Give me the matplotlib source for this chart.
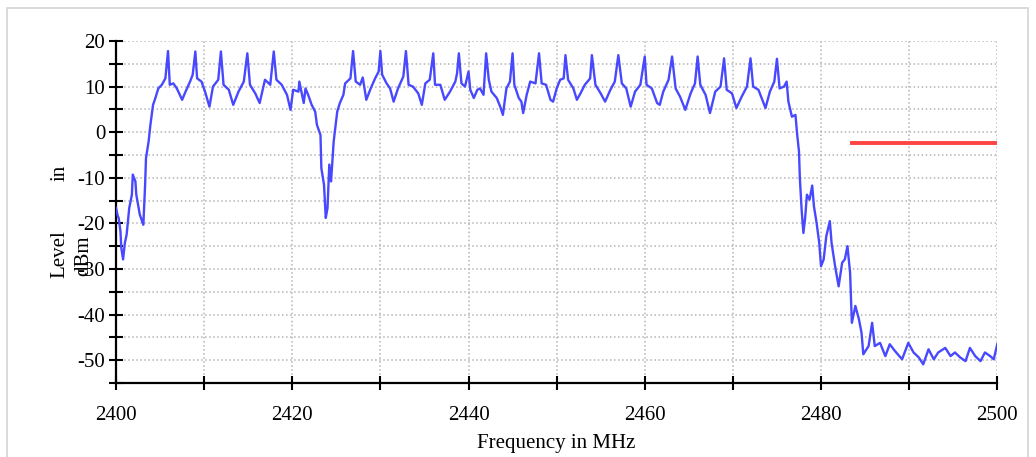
import matplotlib
matplotlib.use("Agg")
import matplotlib.pyplot as plt
from matplotlib.ticker import MultipleLocator
from matplotlib.patches import Rectangle

plt.rcParams['font.family'] = ['Liberation Serif', 'DejaVu Serif']
plt.rcParams['axes.unicode_minus'] = False

# Spectrum trace (MHz, dBm)
freq = [
    2400.0, 2400.2, 2400.3, 2400.5, 2400.6, 2400.8, 2401.0, 2401.2, 2401.5, 2401.8,
    2401.9, 2402.2, 2402.3, 2402.7, 2403.1, 2403.3, 2403.4, 2403.7, 2403.9, 2404.2,
    2404.4, 2404.8, 2405.2, 2405.6, 2405.9, 2406.1, 2406.5, 2406.9, 2407.5, 2407.8,
    2408.4, 2408.7, 2409.0, 2409.2, 2409.7, 2410.1, 2410.6, 2411.0, 2411.6, 2411.9,
    2412.2, 2412.8, 2413.3, 2413.9, 2414.5, 2414.9, 2415.2, 2415.8, 2416.3, 2416.9,
    2417.5, 2417.9, 2418.2, 2418.8, 2419.4, 2419.8, 2420.1, 2420.7, 2420.8, 2421.3,
    2421.5, 2421.8, 2422.2, 2422.6, 2422.8, 2423.2, 2423.3, 2423.6, 2423.8, 2424.0,
    2424.2, 2424.4, 2424.7, 2425.1, 2425.4, 2425.8, 2426.0, 2426.6, 2426.9, 2427.2,
    2427.7, 2428.0, 2428.4, 2428.9, 2429.4, 2429.8, 2430.0, 2430.2, 2430.7, 2431.1,
    2431.5, 2432.0, 2432.6, 2432.9, 2433.2, 2433.7, 2434.3, 2434.7, 2435.1, 2435.6,
    2436.0, 2436.2, 2436.8, 2437.3, 2437.9, 2438.5, 2438.7, 2438.9, 2439.2, 2439.6,
    2440.0, 2440.2, 2440.6, 2441.0, 2441.3, 2441.7, 2442.0, 2442.3, 2442.6, 2443.2,
    2443.6, 2443.9, 2444.3, 2444.7, 2445.0, 2445.2, 2445.7, 2446.0, 2446.2, 2446.6,
    2447.0, 2447.6, 2448.0, 2448.3, 2448.8, 2449.3, 2449.6, 2450.0, 2450.4, 2450.8,
    2451.0, 2451.3, 2451.9, 2452.3, 2452.7, 2453.2, 2453.8, 2454.0, 2454.4, 2455.0,
    2455.5, 2456.1, 2456.6, 2457.0, 2457.4, 2457.9, 2458.4, 2458.9, 2459.5, 2460.0,
    2460.2, 2460.8, 2461.4, 2461.7, 2462.1, 2462.7, 2463.1, 2463.5, 2464.0, 2464.6,
    2465.2, 2465.7, 2466.0, 2466.3, 2466.9, 2467.4, 2468.0, 2468.6, 2469.0, 2469.3,
    2469.9, 2470.4, 2471.0, 2471.6, 2472.0, 2472.3, 2472.9, 2473.7, 2474.2, 2474.7,
    2475.0, 2475.3, 2475.8, 2476.1, 2476.3, 2476.7, 2477.1, 2477.3, 2477.5, 2477.6,
    2477.8, 2478.0, 2478.2, 2478.4, 2478.7, 2479.0, 2479.2, 2479.5, 2479.8, 2480.0,
    2480.3, 2480.6, 2481.0, 2481.2, 2481.6, 2482.0, 2482.4, 2482.7, 2483.0, 2483.3,
    2483.5, 2483.9, 2484.3, 2484.6, 2484.8, 2485.4, 2485.8, 2486.1, 2486.7, 2487.3,
    2487.8, 2488.4, 2489.2, 2489.9, 2490.5, 2491.1, 2491.6, 2492.2, 2492.8, 2493.3,
    2494.1, 2494.7, 2495.2, 2495.8, 2496.4, 2496.9, 2497.5, 2498.1, 2498.6, 2499.2,
    2499.6, 2500.0,
]
level = [
    -16.6, -18.4, -18.8, -21.7, -25.4, -27.9, -24.3, -22.5, -16.6, -13.7,
    -9.3, -10.8, -13.7, -18.1, -20.3, -11.5, -5.7, -2.0, 1.6, 6.0,
    7.1, 9.6, 10.4, 11.8, 17.8, 10.4, 10.7, 9.6, 7.1, 8.5,
    11.1, 12.6, 17.7, 11.8, 11.1, 8.9, 5.6, 10.0, 11.5, 17.7,
    10.4, 9.3, 6.0, 8.9, 11.1, 17.3, 10.4, 8.5, 6.4, 11.5,
    10.4, 17.7, 11.5, 10.4, 8.2, 4.9, 9.3, 8.9, 11.1, 6.4,
    9.6, 8.2, 6.0, 4.5, 1.6, -0.6, -7.9, -11.5, -18.8, -16.6,
    -7.1, -10.8, -2.0, 4.5, 6.4, 8.2, 10.7, 11.8, 17.8, 11.1,
    10.4, 12.0, 7.1, 9.6, 11.8, 13.3, 17.8, 12.6, 10.7, 9.6,
    6.7, 9.6, 12.2, 17.8, 10.4, 10.0, 8.5, 6.0, 10.7, 11.5,
    17.3, 10.4, 10.4, 7.1, 8.9, 11.1, 12.9, 17.3, 10.7, 10.0,
    13.3, 9.3, 7.5, 9.3, 9.6, 8.2, 17.3, 11.5, 8.9, 7.5,
    5.6, 3.8, 9.6, 11.1, 17.3, 10.4, 7.5, 6.7, 4.2, 8.2,
    11.1, 10.7, 17.3, 10.7, 10.4, 7.1, 6.7, 9.6, 11.5, 11.8,
    16.9, 11.5, 9.6, 7.1, 8.5, 10.4, 11.8, 16.9, 10.4, 8.5,
    6.7, 9.3, 11.1, 16.9, 10.7, 9.6, 5.6, 8.9, 10.4, 16.6,
    10.4, 9.6, 6.4, 6.0, 8.9, 11.5, 16.6, 9.6, 7.8, 4.9,
    8.5, 10.7, 16.6, 10.4, 8.2, 4.2, 8.9, 10.0, 16.2, 9.3,
    8.5, 5.3, 7.8, 10.0, 16.2, 10.0, 9.3, 5.3, 8.9, 11.1,
    16.1, 9.6, 10.0, 11.1, 6.7, 3.4, 3.8, -0.6, -4.2, -10.1,
    -17.0, -22.1, -18.8, -13.7, -14.8, -11.7, -16.3, -19.9, -24.3, -29.4,
    -27.9, -22.8, -19.5, -24.3, -29.4, -33.8, -28.6, -27.9, -25.0, -30.8,
    -41.8, -38.1, -41.0, -44.0, -48.7, -46.9, -41.8, -46.9, -46.2, -49.1,
    -46.5, -48.0, -49.8, -46.2, -48.3, -49.4, -50.9, -47.6, -49.8, -48.3,
    -47.3, -49.1, -48.3, -49.4, -50.2, -47.3, -49.1, -50.2, -48.3, -49.1,
    -49.8, -46.5,
]

# Limit line
limit_freq = [2483.5, 2500.0]
limit_level = [-2.4, -2.4]

fig = plt.figure(figsize=(10.36, 4.57), dpi=100)
ax = fig.add_axes([0.112, 0.1619, 0.8506, 0.7484])

ax.plot(freq, level, color='#4848ff', linewidth=1.7, zorder=3)
ax.plot(limit_freq, limit_level, color='#ff4444', linewidth=2.8, zorder=3)

ax.set_xlim(2400, 2500)
ax.set_ylim(-55, 20)
ax.xaxis.set_major_locator(MultipleLocator(20))
ax.xaxis.set_minor_locator(MultipleLocator(10))
ax.yaxis.set_major_locator(MultipleLocator(10))
ax.yaxis.set_minor_locator(MultipleLocator(5))

ax.grid(True, which='both', linestyle=':', color='#b4b4b4', linewidth=1.1)
ax.set_axisbelow(True)

for s in ['top', 'right']:
    ax.spines[s].set_visible(False)
for s in ['left', 'bottom']:
    ax.spines[s].set_linewidth(1.6)

ax.tick_params(which='both', direction='inout', length=9.5, width=1.5, labelsize=15)
ax.tick_params(axis='x', which='both', pad=12)
ax.tick_params(axis='y', which='both', pad=3)

ax.set_xlabel('Frequency in MHz', fontsize=15, labelpad=6)

# y label is broken over the tick labels as in the original
fig.text(60 / 1036, 1 - 173 / 457, 'in', rotation=90, fontsize=15, ha='center', va='center')
fig.text(60 / 1036, 1 - 254 / 457, 'Level', rotation=90, fontsize=15, ha='center', va='center')
fig.text(84 / 1036, 1 - 256 / 457, 'dBm', rotation=90, fontsize=15, ha='center', va='center')

# light frame around the figure
fig.patches.append(Rectangle((7 / 1036, -0.05), 1021 / 1036, 1.05 - 8 / 457,
                             transform=fig.transFigure, fill=False,
                             edgecolor='#d4d4d4', linewidth=1.2))

fig.savefig('out.png', dpi=100)
